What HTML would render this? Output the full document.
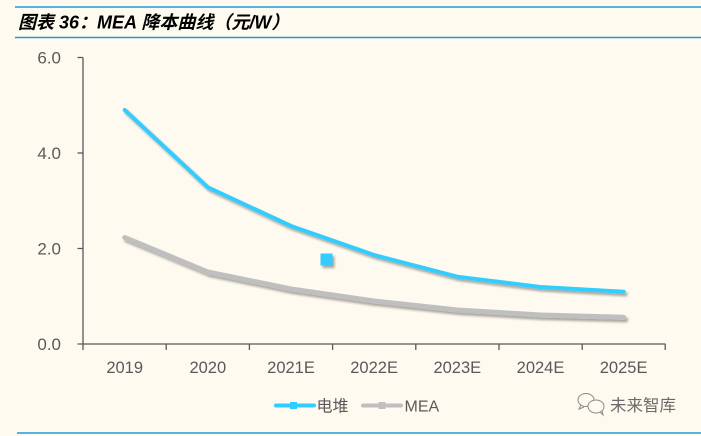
<!DOCTYPE html>
<html><head><meta charset="utf-8"><style>
html,body{margin:0;padding:0;background:#FEFAEF;}
svg{display:block;}
</style></head><body>
<svg width="701" height="436" viewBox="0 0 701 436" xmlns="http://www.w3.org/2000/svg">
<defs>
<filter id="sh" x="-10%" y="-20%" width="120%" height="150%">
<feGaussianBlur in="SourceAlpha" stdDeviation="1.4"/>
<feOffset dx="2" dy="2.5" result="o"/>
<feComponentTransfer><feFuncA type="linear" slope="0.35"/></feComponentTransfer>
<feMerge><feMergeNode/><feMergeNode in="SourceGraphic"/></feMerge>
</filter>
</defs>
<rect width="701" height="436" fill="#FEFAEF"/>
<line x1="15" y1="7" x2="701" y2="7" stroke="#1E9BD7" stroke-width="1.4"/>
<line x1="15" y1="37.5" x2="701" y2="37.5" stroke="#1E9BD7" stroke-width="1.4"/>
<text x="18" y="28.5" font-family="Liberation Sans, Noto Sans CJK SC, sans-serif" font-size="18" font-weight="bold" font-style="italic" fill="#000">图表 36：MEA 降本曲线（元/W）</text>

<g stroke="#595959" stroke-width="1.3" fill="none">
<line x1="83" y1="57.5" x2="83" y2="344"/>
<line x1="77.5" y1="57.5" x2="83" y2="57.5"/>
<line x1="77.5" y1="153" x2="83" y2="153"/>
<line x1="77.5" y1="248.5" x2="83" y2="248.5"/>
<line x1="77.5" y1="344" x2="665.5" y2="344"/>
<line x1="83" y1="344" x2="83" y2="350"/>
<line x1="166.2" y1="344" x2="166.2" y2="350"/>
<line x1="249.4" y1="344" x2="249.4" y2="350"/>
<line x1="332.6" y1="344" x2="332.6" y2="350"/>
<line x1="415.8" y1="344" x2="415.8" y2="350"/>
<line x1="499" y1="344" x2="499" y2="350"/>
<line x1="582.2" y1="344" x2="582.2" y2="350"/>
<line x1="665.2" y1="344" x2="665.2" y2="350"/>
</g>
<g font-family="Liberation Sans, sans-serif" font-size="17" fill="#595959" text-anchor="end">
<text x="61" y="63.5">6.0</text>
<text x="61" y="159">4.0</text>
<text x="61" y="254.5">2.0</text>
<text x="61" y="350">0.0</text>
</g>
<g font-family="Liberation Sans, sans-serif" font-size="16.5" fill="#595959" text-anchor="middle">
<text x="124.7" y="373">2019</text>
<text x="207.8" y="373">2020</text>
<text x="291" y="373">2021E</text>
<text x="374.1" y="373">2022E</text>
<text x="457.3" y="373">2023E</text>
<text x="540.5" y="373">2024E</text>
<text x="623.6" y="373">2025E</text>
</g>

<g filter="url(#sh)">
<polyline points="124.7,237.5 207.8,272 291,289 374.1,301 457.3,310 540.5,315 623.6,317.3" fill="none" stroke="#BFBFBF" stroke-width="5" stroke-linejoin="round" stroke-linecap="round"/>
<polyline points="124.7,110 207.8,187.3 291,226 374.1,255 457.3,276.7 540.5,287 623.6,291.7" fill="none" stroke="#33CCFF" stroke-width="4" stroke-linejoin="round" stroke-linecap="round"/>
<rect x="320.5" y="253.5" width="12" height="12" fill="#33CCFF"/>
</g>

<line x1="276" y1="405.5" x2="314" y2="405.5" stroke="#33CCFF" stroke-width="4" stroke-linecap="round"/>
<rect x="290" y="402" width="7" height="7" fill="#33CCFF"/>
<text x="316.5" y="411.5" font-family="Liberation Sans, Noto Sans CJK SC, sans-serif" font-size="16" fill="#595959">电堆</text>
<line x1="363" y1="405.5" x2="401" y2="405.5" stroke="#BFBFBF" stroke-width="4" stroke-linecap="round"/>
<rect x="378.5" y="402" width="7" height="7" fill="#BFBFBF"/>
<text x="404.5" y="411.5" font-family="Liberation Sans, sans-serif" font-size="16" fill="#595959">MEA</text>

<g fill="none" stroke="#8a8a8a" stroke-width="1">
<ellipse cx="586" cy="400" rx="8" ry="6.5"/>
<ellipse cx="596" cy="406.5" rx="8" ry="6.5" fill="#FEFAEF"/>
<path d="M581 405 l-2 4 l5 -2"/>
<path d="M600 412 l3 3 l-1 -4"/>
</g>
<text x="610" y="411" font-family="Noto Sans CJK SC, sans-serif" font-size="16.5" fill="#6a6a6a">未来智库</text>

<line x1="17" y1="433" x2="701" y2="433" stroke="#1E9BD7" stroke-width="1.4"/>
</svg>
</body></html>
